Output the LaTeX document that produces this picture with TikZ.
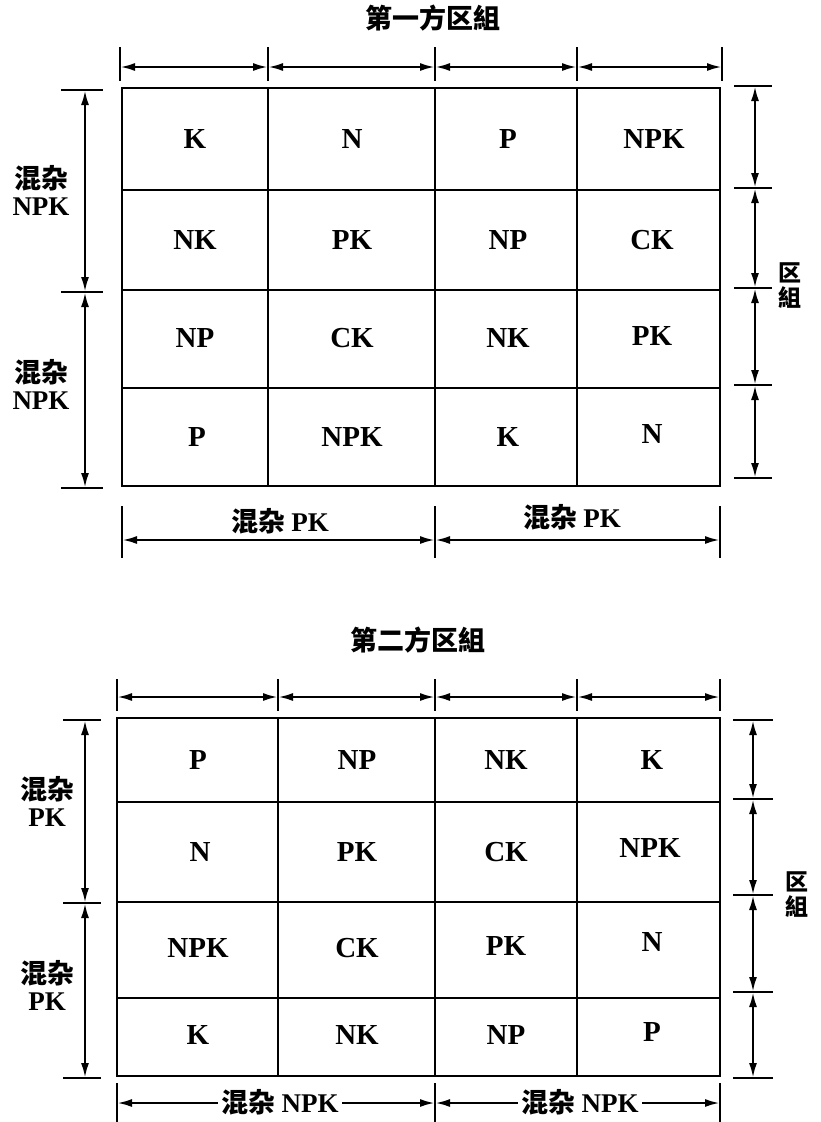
\documentclass[tikz,border=0pt]{standalone}
\usepackage{fontspec}
\setmainfont{Liberation Serif}
\newfontfamily\cjk{Noto Sans CJK SC}
\usetikzlibrary{arrows.meta}

\begin{document}
\begin{tikzpicture}[x=1pt,y=-1pt,line width=2.8pt,>={Latex[length=15pt,width=8pt]}]
    \tikzstyle{cell}=[font=\fontsize{29}{29}\selectfont\bfseries, text=black]
    \tikzstyle{side}=[font=\fontsize{27}{27}\selectfont\bfseries, align=center, text=black]
    \tikzstyle{block}=[font=\fontsize{23}{25}\selectfont\bfseries, align=center, text=black]
    \tikzstyle{heading}=[font=\fontsize{27}{27}\selectfont\bfseries, text=black]
    \tikzstyle{dimline}=[<->, line width=2.4pt]
    \useasboundingbox (0,0) rectangle (820,1122);

    % first block
    \node[heading] (title1) at (433,18) {\cjk 第一方区組};
    \draw (122,88) rectangle (720,486);
    \foreach \x in {268,435,577} \draw (\x,88) -- (\x,486);
    \foreach \y in {190,290,388} \draw (122,\y) -- (720,\y);

    \node[cell] (a11) at (195,139) {K};
    \node[cell] (a12) at (352,139) {N};
    \node[cell] (a13) at (508,139) {P};
    \node[cell] (a14) at (654,139) {NPK};
    \node[cell] (a21) at (195,240) {NK};
    \node[cell] (a22) at (352,240) {PK};
    \node[cell] (a23) at (508,240) {NP};
    \node[cell] (a24) at (652,240) {CK};
    \node[cell] (a31) at (195,338) {NP};
    \node[cell] (a32) at (352,338) {CK};
    \node[cell] (a33) at (508,338) {NK};
    \node[cell] (a34) at (652,336) {PK};
    \node[cell] (a41) at (197,437) {P};
    \node[cell] (a42) at (352,437) {NPK};
    \node[cell] (a43) at (508,437) {K};
    \node[cell] (a44) at (652,434) {N};

    % dimension marks, block 1
    \coordinate (ta0) at (120,67);
    \coordinate (ta1) at (268,67);
    \coordinate (ta2) at (435,67);
    \coordinate (ta3) at (577,67);
    \coordinate (ta4) at (722,67);
    \foreach \c in {ta0,ta1,ta2,ta3,ta4} \draw ([yshift=20pt]\c) -- ([yshift=-14pt]\c);
    \path
     (ta0) edge[dimline] (ta1)
     (ta1) edge[dimline] (ta2)
     (ta2) edge[dimline] (ta3)
     (ta3) edge[dimline] (ta4)
     ;

    \coordinate (la0) at (85,90);
    \coordinate (la1) at (85,292);
    \coordinate (la2) at (85,488);
    \foreach \c in {la0,la1,la2} \draw ([xshift=-24pt]\c) -- ([xshift=18pt]\c);
    \path
     (la0) edge[dimline] (la1)
     (la1) edge[dimline] (la2)
     ;
    \node[side] (lb1) at (41,190) {\cjk 混杂\\NPK};
    \node[side] (lb2) at (41,384) {\cjk 混杂\\NPK};

    \coordinate (ra0) at (755,86);
    \coordinate (ra1) at (755,188);
    \coordinate (ra2) at (755,288);
    \coordinate (ra3) at (755,385);
    \coordinate (ra4) at (755,478);
    \foreach \c in {ra0,ra1,ra2,ra3,ra4} \draw ([xshift=-21pt]\c) -- ([xshift=17pt]\c);
    \path
     (ra0) edge[dimline] (ra1)
     (ra1) edge[dimline] (ra2)
     (ra2) edge[dimline] (ra3)
     (ra3) edge[dimline] (ra4)
     ;
    \node[block] (rb1) at (790,286) {\cjk 区\\\cjk 組};

    \coordinate (ba0) at (122,540);
    \coordinate (ba1) at (435,540);
    \coordinate (ba2) at (720,540);
    \foreach \c in {ba0,ba1,ba2} \draw ([yshift=34pt]\c) -- ([yshift=-18pt]\c);
    \path
     (ba0) edge[dimline] (ba1)
     (ba1) edge[dimline] (ba2)
     ;
    \node[side] (bb1) at (280,521) {\cjk 混杂 \rmfamily PK};
    \node[side] (bb2) at (572,517) {\cjk 混杂 \rmfamily PK};

    % second block
    \node[heading] (title2) at (418,640) {\cjk 第二方区組};
    \draw (117,718) rectangle (720,1076);
    \foreach \x in {278,435,577} \draw (\x,718) -- (\x,1076);
    \foreach \y in {802,902,998} \draw (117,\y) -- (720,\y);

    \node[cell] (b11) at (198,760) {P};
    \node[cell] (b12) at (357,760) {NP};
    \node[cell] (b13) at (506,760) {NK};
    \node[cell] (b14) at (652,760) {K};
    \node[cell] (b21) at (200,852) {N};
    \node[cell] (b22) at (357,852) {PK};
    \node[cell] (b23) at (506,852) {CK};
    \node[cell] (b24) at (650,848) {NPK};
    \node[cell] (b31) at (198,948) {NPK};
    \node[cell] (b32) at (357,948) {CK};
    \node[cell] (b33) at (506,946) {PK};
    \node[cell] (b34) at (652,942) {N};
    \node[cell] (b41) at (198,1035) {K};
    \node[cell] (b42) at (357,1035) {NK};
    \node[cell] (b43) at (506,1035) {NP};
    \node[cell] (b44) at (652,1032) {P};

    % dimension marks, block 2
    \coordinate (tb0) at (117,697);
    \coordinate (tb1) at (278,697);
    \coordinate (tb2) at (435,697);
    \coordinate (tb3) at (577,697);
    \coordinate (tb4) at (720,697);
    \foreach \c in {tb0,tb1,tb2,tb3,tb4} \draw ([yshift=18pt]\c) -- ([yshift=-14pt]\c);
    \path
     (tb0) edge[dimline] (tb1)
     (tb1) edge[dimline] (tb2)
     (tb2) edge[dimline] (tb3)
     (tb3) edge[dimline] (tb4)
     ;

    \coordinate (lc0) at (85,720);
    \coordinate (lc1) at (85,903);
    \coordinate (lc2) at (85,1078);
    \foreach \c in {lc0,lc1,lc2} \draw ([xshift=-22pt]\c) -- ([xshift=16pt]\c);
    \path
     (lc0) edge[dimline] (lc1)
     (lc1) edge[dimline] (lc2)
     ;
    \node[side] (lb3) at (47,801) {\cjk 混杂\\PK};
    \node[side] (lb4) at (47,985) {\cjk 混杂\\PK};

    \coordinate (rc0) at (753,720);
    \coordinate (rc1) at (753,799);
    \coordinate (rc2) at (753,895);
    \coordinate (rc3) at (753,992);
    \coordinate (rc4) at (753,1078);
    \foreach \c in {rc0,rc1,rc2,rc3,rc4} \draw ([xshift=-20pt]\c) -- ([xshift=20pt]\c);
    \path
     (rc0) edge[dimline] (rc1)
     (rc1) edge[dimline] (rc2)
     (rc2) edge[dimline] (rc3)
     (rc3) edge[dimline] (rc4)
     ;
    \node[block] (rb2) at (797,895) {\cjk 区\\\cjk 組};

    \coordinate (bc0) at (117,1103);
    \coordinate (bc1) at (435,1103);
    \coordinate (bc2) at (720,1103);
    \foreach \c in {bc0,bc1,bc2} \draw ([yshift=20pt]\c) -- ([yshift=-19pt]\c);
    \path
     (bc0) edge[dimline] (bc1)
     (bc1) edge[dimline] (bc2)
     ;
    \node[side, fill=white, inner xsep=3pt] (bb3) at (280,1102) {\cjk 混杂 \rmfamily NPK};
    \node[side, fill=white, inner xsep=3pt] (bb4) at (580,1102) {\cjk 混杂 \rmfamily NPK};
  \end{tikzpicture}
\end{document}
